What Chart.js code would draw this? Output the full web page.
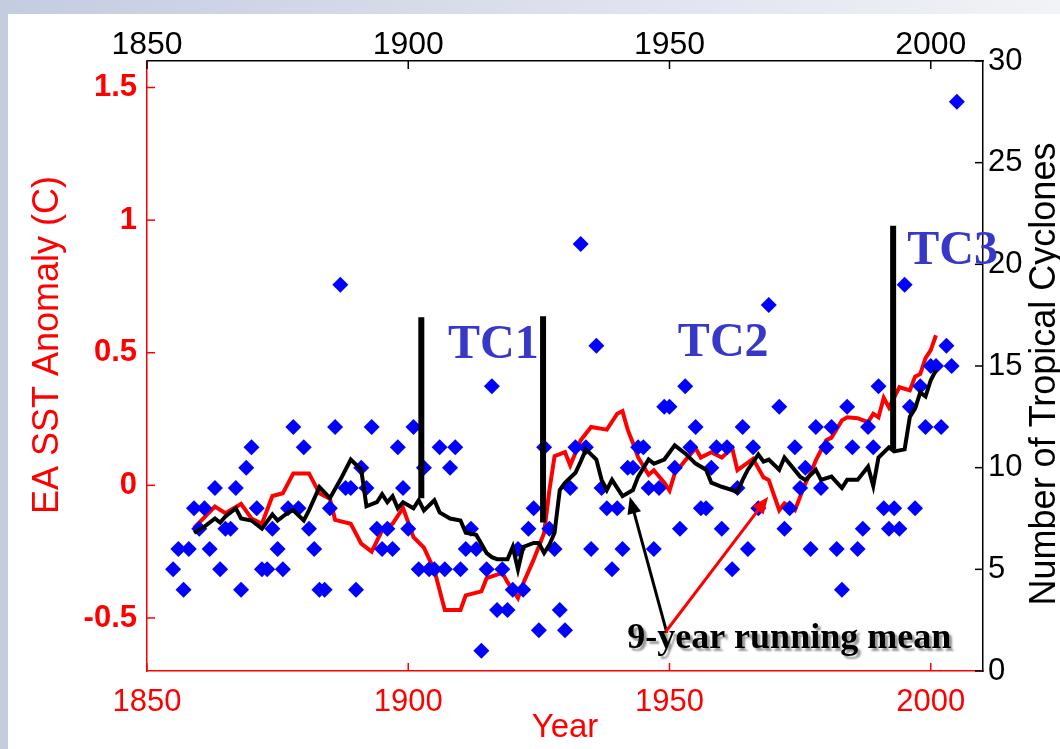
<!DOCTYPE html>
<html><head><meta charset="utf-8">
<script src="https://cdn.jsdelivr.net/npm/chart.js@4.4.1/dist/chart.umd.min.js"></script>
<style>
html,body{margin:0;padding:0;width:1060px;height:749px;overflow:hidden;background:linear-gradient(to right,#c4cce0,#f2f3f8);}
#paper{position:absolute;left:8px;top:14px;width:1052px;height:735px;background:#fff;}
#c{position:absolute;left:0;top:0;}
</style></head><body>
<div id="paper"></div>
<canvas id="c" width="1060" height="749"></canvas>
<script>
// ---- data ----
const xTicks = [1850, 1900, 1950, 2000];
const sstTicks = [-0.5, 0, 0.5, 1, 1.5];
const tcTicks = [0, 5, 10, 15, 20, 25, 30];

const tcYears = [1855,1856,1857,1858,1859,1860,1861,1862,1863,1864,1865,1866,1867,1868,1869,1870,1871,1872,1873,1874,1875,1876,1877,1878,1879,1880,1881,1882,1883,1884,1885,1886,1887,1888,1889,1890,1891,1892,1893,1894,1895,1896,1897,1898,1899,1900,1901,1902,1903,1904,1905,1906,1907,1908,1909,1910,1911,1912,1913,1914,1915,1916,1917,1918,1919,1920,1921,1922,1923,1924,1925,1926,1927,1928,1929,1930,1931,1932,1933,1934,1935,1936,1937,1938,1939,1940,1941,1942,1943,1944,1945,1946,1947,1948,1949,1950,1951,1952,1953,1954,1955,1956,1957,1958,1959,1960,1961,1962,1963,1964,1965,1966,1967,1969,1971,1972,1973,1974,1975,1976,1977,1978,1979,1980,1981,1982,1983,1984,1985,1986,1987,1988,1989,1990,1991,1992,1993,1994,1995,1996,1997,1998,1999,2000,2001,2002,2003,2004,2005];
const tcCounts = [5,6,4,6,8,7,8,6,9,5,7,7,9,4,10,11,8,5,5,7,6,5,8,12,8,11,7,6,4,4,8,12,19,9,9,4,10,9,12,7,6,7,6,11,9,7,12,5,10,5,5,11,5,10,11,5,6,7,6,1,5,14,3,5,3,4,6,4,7,8,2,11,7,6,3,2,9,11,21,11,6,16,9,8,5,8,6,10,10,11,11,9,6,9,13,13,10,7,14,11,12,8,8,10,11,7,11,5,9,12,6,11,8,18,13,7,8,11,9,10,6,12,9,11,12,6,4,13,11,6,7,12,11,14,8,7,8,7,19,13,8,14,12,15,15,12,16,15,28];

const sstYears = [1859,1863,1865,1868,1870,1872,1874,1876,1878,1881,1883,1885,1886,1889,1891,1893,1895,1897,1899,1901,1903,1905,1907,1910,1911,1914,1915,1918,1919,1921,1922,1924,1926,1927,1928,1930,1931,1933,1935,1938,1940,1941,1942,1943,1944,1946,1947,1949,1950,1951,1953,1955,1956,1958,1960,1962,1963,1966,1968,1969,1971,1972,1974,1976,1977,1978,1980,1981,1983,1984,1986,1988,1989,1990,1991,1992,1994,1996,1997,1998,1999,2000,2001];
const sstMean = [-0.16,-0.08,-0.105,-0.07,-0.125,-0.145,-0.04,-0.03,0.045,0.045,-0.03,-0.05,-0.13,-0.145,-0.22,-0.25,-0.17,-0.145,-0.085,-0.195,-0.235,-0.32,-0.47,-0.47,-0.415,-0.40,-0.35,-0.33,-0.365,-0.425,-0.37,-0.28,-0.18,-0.02,0.11,0.125,0.075,0.17,0.22,0.21,0.27,0.28,0.21,0.16,0.105,0.04,0.057,0.01,-0.02,0.045,0.094,0.14,0.105,0.125,0.105,0.14,0.057,0.10,0.03,0.02,-0.094,-0.068,-0.094,0.008,0.045,0.094,0.17,0.18,0.245,0.257,0.253,0.238,0.27,0.257,0.33,0.294,0.37,0.358,0.41,0.42,0.48,0.51,0.566];

const tcMeanYears = [1859,1861,1863,1864,1865,1867,1868,1870,1872,1874,1875,1877,1878,1880,1881,1883,1885,1887,1889,1891,1892,1894,1895,1896,1897,1898,1899,1901,1902,1903,1905,1906,1908,1910,1911,1913,1915,1916,1917,1919,1920,1921,1922,1924,1925,1926,1927,1928,1929,1930,1932,1933,1934,1936,1937,1938,1939,1941,1943,1944,1946,1947,1949,1951,1953,1955,1957,1958,1960,1962,1963,1964,1965,1967,1968,1969,1971,1972,1975,1976,1978,1979,1981,1983,1984,1986,1988,1989,1990,1992,1993,1995,1996,1997,1998,1999,2000,2001];
const tcMean = [6.8,7.1,7.5,7.3,7.6,8.0,7.5,7.4,7.0,7.7,7.4,7.8,7.9,7.4,7.9,9.05,8.5,9.4,10.4,9.9,8.1,8.3,8.7,8.3,8.6,8.0,8.3,8.0,8.4,7.9,8.4,7.8,7.5,7.4,6.8,6.7,5.8,5.6,5.5,5.5,6.1,5.0,6.1,6.3,6.3,5.8,6.2,6.8,8.9,9.26,9.75,10.3,10.9,10.4,9.4,8.9,9.4,8.6,8.9,9.56,10.4,10.2,10.4,11.1,10.7,10.2,9.9,9.26,9.06,8.9,8.8,9.4,9.9,10.65,10.3,10.4,9.9,10.5,9.56,9.4,9.9,9.4,9.56,9.0,9.4,9.4,10.05,9.1,10.5,11.0,10.8,10.9,12.5,12.9,13.7,13.5,14.3,14.8];

// regime-shift markers (year, count range)
const shiftYears = [1902.5, 1925.8, 1992.8];
const shiftLow = [8.5, 7.3, 10.9];
const shiftHigh = [17.4, 17.45, 21.9];
const shiftLabels = ['TC1', 'TC2', 'TC3'];
const shiftLabelYears = [1907.6, 1951.6, 1995.5];
const shiftLabelCounts = [15.37, 15.47, 20.0];

const SANS = "'Liberation Sans', Arial, sans-serif";
const SERIF = "'Liberation Serif', 'Times New Roman', serif";

function pts(xs, ys){ return xs.map((v,i)=>({x:v, y:ys[i]})); }

function arrow(ctx, x1, y1, x2, y2, col){
  const a = Math.atan2(y2-y1, x2-x1), L = 17, W = 7;
  const c = Math.cos(a), s = Math.sin(a);
  ctx.save();
  ctx.strokeStyle = col; ctx.fillStyle = col; ctx.lineWidth = 3;
  ctx.beginPath(); ctx.moveTo(x1, y1); ctx.lineTo(x2 - L*0.8*c, y2 - L*0.8*s); ctx.stroke();
  ctx.beginPath(); ctx.moveTo(x2, y2);
  ctx.lineTo(x2 - L*c + W*s, y2 - L*s - W*c);
  ctx.lineTo(x2 - L*c - W*s, y2 - L*s + W*c);
  ctx.closePath(); ctx.fill();
  ctx.restore();
}

const annotations = {
  id: 'annotations',
  beforeDatasetsDraw(chart){
    const {ctx, chartArea: ca, scales} = chart;
    ctx.save();
    ctx.lineWidth = 1.5;
    const tl = 8;
    ctx.strokeStyle = '#ff0000';
    xTicks.forEach(v => { const p = scales.x.getPixelForValue(v); ctx.beginPath(); ctx.moveTo(p, ca.bottom); ctx.lineTo(p, ca.bottom - tl); ctx.stroke(); });
    sstTicks.forEach(v => { const p = scales.y.getPixelForValue(v); ctx.beginPath(); ctx.moveTo(ca.left, p); ctx.lineTo(ca.left + tl, p); ctx.stroke(); });
    ctx.strokeStyle = '#000';
    xTicks.forEach(v => { const p = scales.x2.getPixelForValue(v); ctx.beginPath(); ctx.moveTo(p, ca.top); ctx.lineTo(p, ca.top + tl); ctx.stroke(); });
    tcTicks.forEach(v => { const p = scales.y2.getPixelForValue(v); ctx.beginPath(); ctx.moveTo(ca.right, p); ctx.lineTo(ca.right - tl, p); ctx.stroke(); });
    ctx.restore();
  },
  afterDraw(chart){
    const {ctx, scales} = chart;
    const X = v => scales.x.getPixelForValue(v);
    const Y = v => scales.y2.getPixelForValue(v);
    // arrows from the caption
    arrow(ctx, X(1949.5), Y(1.87), X(1942.4), Y(8.57), '#000000');
    arrow(ctx, X(1949.1), Y(1.87), X(1968.9), Y(8.57), '#ff0000');
    // caption
    ctx.save();
    ctx.font = 'bold 36px ' + SERIF;
    ctx.textBaseline = 'alphabetic';
    ctx.textAlign = 'left';
    ctx.shadowColor = 'rgba(0,0,0,0.4)';
    ctx.shadowOffsetX = 3; ctx.shadowOffsetY = 3; ctx.shadowBlur = 2;
    ctx.fillStyle = '#000';
    ctx.fillText('9-year running mean', X(1941.9), Y(1.13));
    ctx.restore();
    // TC labels
    ctx.save();
    ctx.font = 'bold 48px ' + SERIF;
    ctx.fillStyle = '#3838c8';
    ctx.textBaseline = 'alphabetic';
    shiftLabels.forEach((t,i) => ctx.fillText(t, X(shiftLabelYears[i]), Y(shiftLabelCounts[i])));
    ctx.restore();
    // vertical axis titles
    ctx.save();
    ctx.font = '36px ' + SANS;
    ctx.textAlign = 'center'; ctx.textBaseline = 'middle';
    ctx.translate(48, 345); ctx.rotate(-Math.PI/2);
    ctx.fillStyle = '#ff0000';
    ctx.fillText('EA SST Anomaly (C)', 0, 0);
    ctx.restore();
    ctx.save();
    ctx.font = '36px ' + SANS;
    ctx.textAlign = 'center'; ctx.textBaseline = 'middle';
    ctx.translate(1045, 374); ctx.rotate(-Math.PI/2);
    ctx.fillStyle = '#000';
    ctx.fillText('Number of Tropical Cyclones', 0, 0);
    ctx.restore();
  }
};

const shiftSets = shiftYears.map((yr,i) => ({
  label: 'shift' + (i+1), type: 'scatter', showLine: true,
  data: [{x: yr, y: shiftLow[i]}, {x: yr, y: shiftHigh[i]}],
  xAxisID: 'x', yAxisID: 'y2', borderColor: '#000', borderWidth: 6, pointRadius: 0, borderCapStyle: 'butt'
}));

new Chart(document.getElementById('c'), {
  type: 'scatter',
  data: {
    datasets: [
      ...shiftSets,
      { label: 'TC 9-year running mean', showLine: true, data: pts(tcMeanYears, tcMean), xAxisID: 'x', yAxisID: 'y2',
        borderColor: '#000000', borderWidth: 4, pointRadius: 0, tension: 0 },
      { label: 'Tropical cyclones', data: pts(tcYears, tcCounts), xAxisID: 'x', yAxisID: 'y2',
        pointStyle: 'rectRot', pointRadius: 8, backgroundColor: '#0000ff', borderColor: '#0000ff', borderWidth: 0 },
      { label: 'EA SST anomaly', showLine: true, data: pts(sstYears, sstMean), xAxisID: 'x', yAxisID: 'y',
        borderColor: '#ff0000', borderWidth: 4, pointRadius: 0, tension: 0 }
    ]
  },
  options: {
    responsive: false, animation: false, devicePixelRatio: 1,
    layout: { padding: 0 },
    plugins: { legend: { display: false }, tooltip: { enabled: false } },
    scales: {
      x: {
        type: 'linear', position: 'bottom', min: 1850, max: 2010,
        afterBuildTicks: s => { s.ticks = xTicks.map(v => ({value: v})); },
        afterFit: s => { s.height = 78; },
        grid: { display: false, drawTicks: false },
        border: { display: true, color: '#ff0000', width: 1.5 },
        ticks: { color: '#ff0000', font: { family: SANS, size: 31, lineHeight: 1 }, padding: 16, maxRotation: 0, autoSkip: false, callback: v => String(v) },
        title: { display: true, text: 'Year', color: '#ff0000', font: { family: SANS, size: 33, lineHeight: 1 }, padding: { top: 0, bottom: 5 } }
      },
      x2: {
        type: 'linear', position: 'top', min: 1850, max: 2010,
        afterBuildTicks: s => { s.ticks = xTicks.map(v => ({value: v})); },
        afterFit: s => { s.height = 61; },
        grid: { display: false, drawTicks: false },
        border: { display: true, color: '#000000', width: 1.5 },
        ticks: { color: '#000000', font: { family: SANS, size: 32, lineHeight: 1 }, padding: 0, maxRotation: 0, autoSkip: false, callback: v => String(v) }
      },
      y: {
        type: 'linear', position: 'left', min: -0.7, max: 1.6,
        afterBuildTicks: s => { s.ticks = sstTicks.map(v => ({value: v})); },
        afterFit: s => { s.width = 147; },
        grid: { display: false, drawTicks: false },
        border: { display: true, color: '#ff0000', width: 1.5 },
        ticks: { color: '#ff0000', font: { family: SANS, size: 31, weight: 'bold' }, padding: 10, autoSkip: false, callback: v => String(v) }
      },
      y2: {
        type: 'linear', position: 'right', min: 0, max: 30,
        afterBuildTicks: s => { s.ticks = tcTicks.map(v => ({value: v})); },
        afterFit: s => { s.width = 77; },
        grid: { display: false, drawTicks: false },
        border: { display: true, color: '#000000', width: 1.5 },
        ticks: { color: '#000000', font: { family: SANS, size: 31 }, padding: 5, autoSkip: false, callback: v => String(v) }
      }
    }
  },
  plugins: [annotations]
});
</script>
</body></html>
